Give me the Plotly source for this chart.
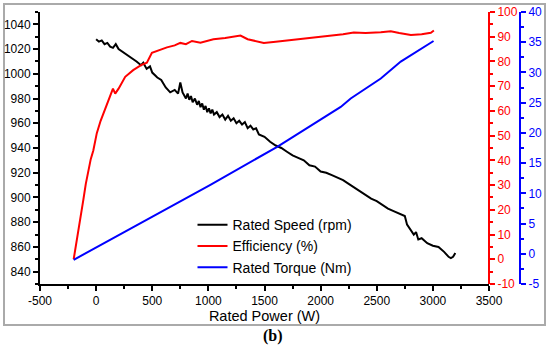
import plotly.graph_objects as go

# ---- data ----
speed_power = [0, 25, 50, 75, 100, 125, 150, 175, 200, 250, 300, 330, 360, 400, 420, 450, 480, 500,
               545, 580, 620, 660, 700, 730, 750, 770, 785, 800, 815, 830, 845, 860, 880, 900, 915,
               930, 945, 960, 975, 990, 1005, 1020, 1035, 1050, 1075, 1100, 1125, 1150, 1175, 1200,
               1225, 1250, 1275, 1300, 1325, 1350, 1375, 1400, 1425, 1450, 1500, 1550, 1600, 1650,
               1700, 1750, 1800, 1850, 1900, 1950, 2000, 2050, 2100, 2150, 2200, 2250, 2300, 2350,
               2400, 2450, 2500, 2550, 2600, 2650, 2700, 2750, 2770, 2790, 2810, 2830, 2850, 2870,
               2900, 2950, 3000, 3050, 3100, 3140, 3160, 3180, 3200]
speed_rpm = [1028, 1026, 1027, 1024, 1025, 1022, 1021, 1024, 1020, 1017, 1014, 1012, 1010, 1007, 1009,
             1004, 1006, 1001, 997, 995, 989, 985, 987, 984, 993, 985, 982, 980, 984, 979, 982, 977,
             980, 975, 978, 973, 976, 971, 974, 969, 972, 968, 971, 967, 969, 965, 967, 963, 966,
             962, 964, 960, 962, 959, 961, 956, 958, 955, 956, 951, 949, 945, 942, 940, 937, 934,
             932, 930, 926, 925, 921, 920, 918, 916, 914, 911, 908, 905, 902, 899, 897, 894, 891,
             889, 887, 885, 878, 875, 872, 870, 872, 866, 867, 863, 861, 860, 856, 852, 851, 852, 855]

eff_power = [-200, -180, -158, -136, -114, -92, -70, -48, -25, 6, 40, 80, 125, 150, 170, 200, 259, 330,
             400, 452, 497, 550, 631, 700, 750, 800, 854, 929, 1000, 1045, 1150, 1286, 1350, 1494,
             1600, 1795, 1950, 2089, 2200, 2295, 2400, 2536, 2625, 2700, 2804, 2900, 2982, 3009]
efficiency = [0, 5.5, 10.5, 17.5, 24, 30.5, 36, 40.5, 44, 51, 56, 61, 66, 69, 67, 69, 73.8, 76.5,
              78.5, 79.5, 83.5, 84.5, 85.7, 86.5, 87.5, 87, 88.3, 87.6, 88.5, 89, 89.5, 90.5, 89,
              87.5, 88, 89, 89.8, 90.3, 91, 91.7, 91.5, 91.8, 92.2, 91.5, 90.7, 91, 91.6, 92.5]

torque_power = [-200, 500, 1018, 1613, 2179, 2268, 2536, 2714, 3006]
torque_nm = [-1.0, 6.1, 11.4, 17.7, 24.3, 25.7, 29.0, 31.8, 35.2]

x_ticks = [-500, 0, 500, 1000, 1500, 2000, 2500, 3000, 3500]
x_ticktext = ["-500", "0", "500", "1000", "1500", "2000", "2500", "3000", "3500"]
speed_ticks = [840, 860, 880, 900, 920, 940, 960, 980, 1000, 1020, 1040]
eff_ticks = [-10, 0, 10, 20, 30, 40, 50, 60, 70, 80, 90, 100]
torque_ticks = [-5, 0, 5, 10, 15, 20, 25, 30, 35, 40]

FONT = "Arial, Liberation Sans, sans-serif"
RED = "#ff0000"
BLUE = "#0000ff"

fig = go.Figure()
fig.add_trace(go.Scatter(x=eff_power, y=efficiency, mode="lines", name="Efficiency (%)",
                         line=dict(color=RED, width=2), yaxis="y2", legendrank=2))
fig.add_trace(go.Scatter(x=speed_power, y=speed_rpm, mode="lines", name="Rated Speed (rpm)",
                         line=dict(color="black", width=2), yaxis="y", legendrank=1))
fig.add_trace(go.Scatter(x=torque_power, y=torque_nm, mode="lines", name="Rated Torque (Nm)",
                         line=dict(color=BLUE, width=2), yaxis="y3", legendrank=3))

xd = 449 / 500

def axis_common(color):
    return dict(showgrid=False, zeroline=False, showline=True, linecolor=color, linewidth=2,
                ticks="outside", ticklen=5, tickwidth=1.5, tickcolor=color, automargin=False,
                tickfont=dict(family=FONT, size=12, color=color))

fig.update_layout(
    width=550, height=361,
    margin=dict(l=40, r=10, t=12, b=77, autoexpand=False),
    paper_bgcolor="white", plot_bgcolor="white",
    showlegend=True,
    legend=dict(x=0.305, y=0.275, xanchor="left", yanchor="top", bgcolor="rgba(0,0,0,0)",
                font=dict(family=FONT, size=14, color="black"), tracegroupgap=0,
                itemwidth=30, traceorder="normal"),
    xaxis=dict(domain=[0, xd], range=[-500, 3500], tickvals=x_ticks, ticktext=x_ticktext,
               minor=dict(dtick=250, ticklen=3, tickcolor="black", ticks="outside"),
               title=dict(text="Rated Power (W)", font=dict(family=FONT, size=14.5, color="black"),
                          standoff=2),
               **axis_common("black")),
    yaxis=dict(range=[830, 1050], tickvals=speed_ticks,
               minor=dict(dtick=10, ticklen=3, tickcolor="black", ticks="outside"),
               **axis_common("black")),
    yaxis2=dict(range=[-10, 100], tickvals=eff_ticks,
                ticktext=[str(v) for v in eff_ticks],
                overlaying="y", side="right", anchor="free", position=xd,
                minor=dict(dtick=5, ticklen=3, tickcolor=RED, ticks="outside"),
                **axis_common(RED)),
    yaxis3=dict(range=[-5, 40], tickvals=torque_ticks,
                ticktext=[str(v) for v in torque_ticks],
                overlaying="y", side="right", anchor="free", position=(520 - 40) / 500,
                minor=dict(dtick=2.5, ticklen=3, tickcolor=BLUE, ticks="outside"),
                **axis_common(BLUE)),
    shapes=[dict(type="rect", xref="paper", yref="paper",
                 x0=(4 - 40) / 500, x1=(545 - 40) / 500,
                 y0=(284 - 325) / 272, y1=(284 - 4) / 272,
                 line=dict(color="#aaaaaa", width=2), fillcolor="rgba(0,0,0,0)", layer="below")],
    annotations=[dict(text="<b>(b)</b>", xref="paper", yref="paper",
                      x=(273 - 40) / 500, y=(284 - 347) / 272, showarrow=False,
                      font=dict(family="Liberation Serif, Times New Roman, serif", size=16,
                                color="black"))],
)

fig.write_html("out.html", config={"displayModeBar": False},
               post_script="document.body.style.margin='0';")
